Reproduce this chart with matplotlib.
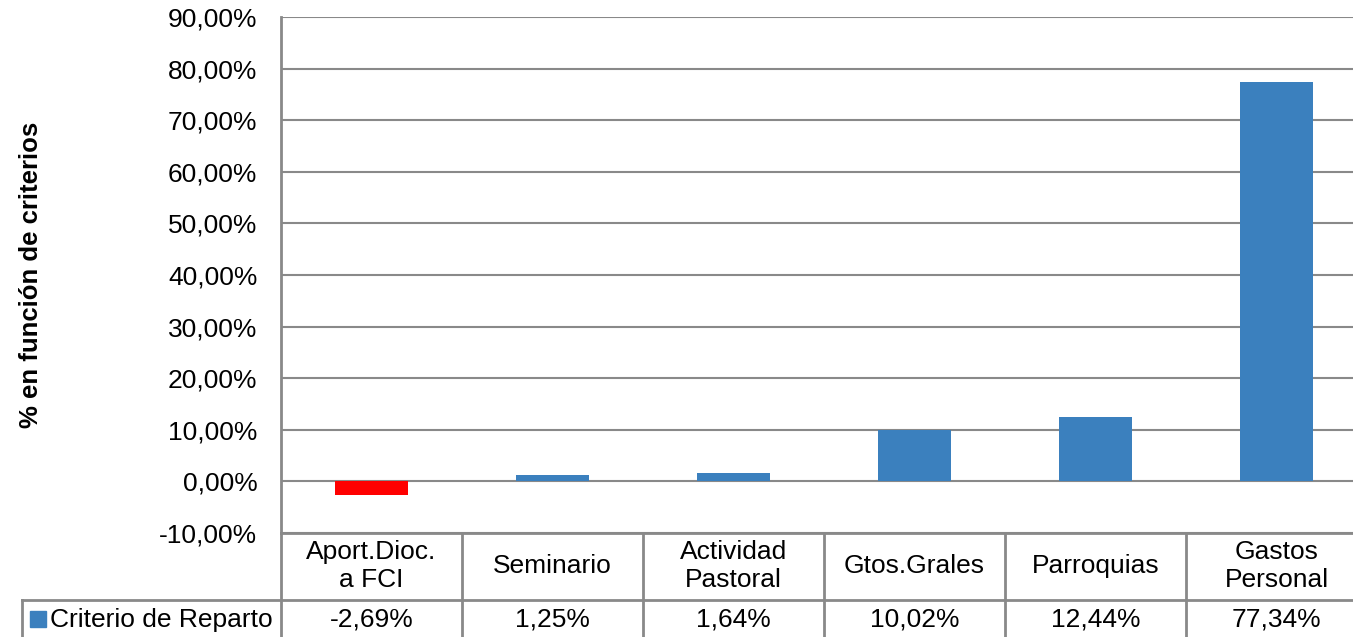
import matplotlib
matplotlib.use("Agg")
from matplotlib import pyplot as plt
from matplotlib import transforms
from matplotlib.patches import Rectangle
from matplotlib.lines import Line2D

plt.rcParams['font.family'] = ['Liberation Sans', 'DejaVu Sans']

categorias = ["Aport.Dioc.\na FCI", "Seminario", "Actividad\nPastoral",
              "Gtos.Grales", "Parroquias", "Gastos\nPersonal"]
valores = [-2.69, 1.25, 1.64, 10.02, 12.44, 77.34]
serie = "Criterio de Reparto"

AZUL = "#3b80be"
ROJO = "#ff0000"
GRIS = "#898989"
FS = 19

W, H = 1353, 637
fig = plt.figure(figsize=(W / 100, H / 100), dpi=100)

# plot area in pixels: left 281, right 1367 (runs past the edge), top 17, bottom 533
def fy(py):
    return 1 - py / H

ax = fig.add_axes([281 / W, fy(533), (1367 - 281) / W, (533 - 17) / H])

colores = [ROJO if v < 0 else AZUL for v in valores]
x = list(range(len(valores)))
ax.bar(x, valores, width=0.4, color=colores, zorder=3)

ax.set_xlim(-0.5, len(valores) - 0.5)
ax.set_ylim(-10, 90)
ax.yaxis.set_major_locator(plt.MultipleLocator(10))

def pct(value, tick_number):
    return ("%.2f%%" % value).replace(".", ",")

ax.yaxis.set_major_formatter(plt.FuncFormatter(pct))
ax.set_xticks([])
ax.tick_params(axis='y', length=0, labelsize=FS, pad=17)
ax.grid(True, axis='y', color=GRIS, linewidth=1.5, zorder=0)
for s in ['top', 'right', 'bottom']:
    ax.spines[s].set_visible(False)
ax.spines['left'].set_color(GRIS)
ax.spines['left'].set_linewidth(2)

fig.text(31 / W, fy(275), "% en función de criterios", rotation=90,
         fontsize=18.5, fontweight='bold', ha='center', va='center')

# data table below the plot
mix = transforms.blended_transform_factory(ax.transData, fig.transFigure)
lw = 2
for i in range(len(valores) + 1):
    fig.add_artist(Line2D([i - 0.5, i - 0.5], [fy(533), 0], transform=mix,
                          color=GRIS, linewidth=lw))
fig.add_artist(Line2D([-0.5, len(valores)], [fy(533), fy(533)], transform=mix,
                      color=GRIS, linewidth=lw))
fig.add_artist(Line2D([22 / W, 1.0], [fy(600), fy(600)], transform=fig.transFigure,
                      color=GRIS, linewidth=lw))
fig.add_artist(Line2D([22 / W, 22 / W], [fy(600), 0], transform=fig.transFigure,
                      color=GRIS, linewidth=lw))

for i, (c, v) in enumerate(zip(categorias, valores)):
    fig.text(i, fy(566), c, transform=mix, ha='center', va='center',
             fontsize=FS, linespacing=1.2)
    fig.text(i, fy(620), ("%.2f%%" % v).replace(".", ","), transform=mix,
             ha='center', va='center', fontsize=FS)

fig.add_artist(Rectangle((30 / W, fy(627)), 16 / W, 16 / H,
                         transform=fig.transFigure, color=AZUL))
fig.text(50 / W, fy(620), serie, ha='left', va='center', fontsize=FS)

plt.savefig('out.png', dpi=100)
